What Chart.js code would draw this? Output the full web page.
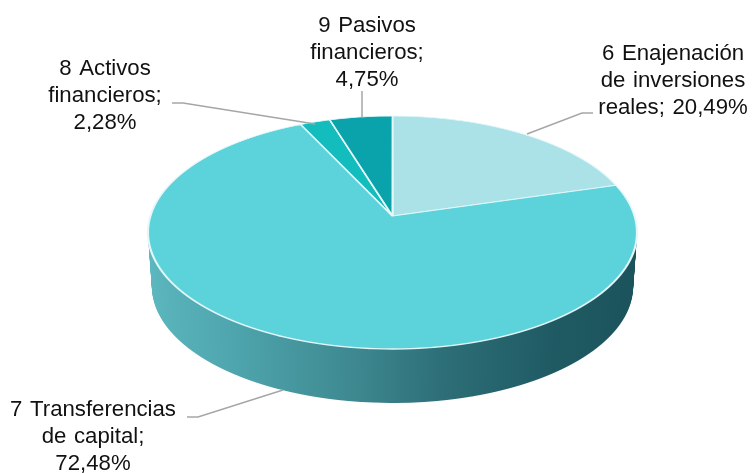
<!DOCTYPE html>
<html>
<head>
<meta charset="utf-8">
<style>html,body{margin:0;padding:0;background:#fff}#wrap{width:754px;height:473px}</style>
<script src="https://cdn.jsdelivr.net/npm/chart.js@4"></script>
</head>
<body>
<div id="wrap"><canvas id="c" width="754" height="473"></canvas></div>
<script>
const categories = ['6 Enajenación de inversiones reales','7 Transferencias de capital','8 Activos financieros','9 Pasivos financieros'];
const values = [20.49, 72.48, 2.28, 4.75];
const valueLabels = ['20,49%','72,48%','2,28%','4,75%'];
const labelLines = [
  ['6 Enajenación','de inversiones','reales; 20,49%'],
  ['7 Transferencias','de capital;','72,48%'],
  ['8 Activos','financieros;','2,28%'],
  ['9 Pasivos','financieros;','4,75%']
];
const sliceColors = ['#ABE2E8','#5CD2DA','#14BDBD','#0BA3AB'];

// Layout and style only
const labelPos = [[673,54],[93,410],[105,69],[367,26]];
const leaders = [
  [[527,134],[582,113],[593,113]],
  [[187,417],[198,417],[283,390]],
  [[172,103],[183,103],[315,124]],
  [[362,91],[362,118]]
];
const view = {cx:392.5, y0:216, top:116, bottom:349, A:242, depth:54};
const k = (view.y0-view.top - (view.bottom-view.y0)) / ((view.y0-view.top)+(view.bottom-view.y0));
const B = (view.y0-view.top)*(1-k);

function drawStrips(ctx, arcs, yFrom, yTo, shift, widthFactor){
  const a0 = arcs[0], R = a0.outerRadius, Xc = a0.x, Yc = a0.y;
  for(let y=yFrom; y<yTo; y++){
    const t = y+0.5-view.y0;
    const v = t/(B-k*t);
    if(Math.abs(v)>1.03) continue;
    const D = 1+k*v;
    const sx = view.A*widthFactor/(R*D);
    const sy = (B/(D*D))/R;
    ctx.save();
    ctx.setTransform(1,0,0,1,0,0);
    ctx.beginPath();
    ctx.rect(0,y+shift,754,1);
    ctx.clip();
    ctx.setTransform(sx,0,0,sy,view.cx-sx*Xc,y+shift+0.5-sy*(Yc+R*v));
    arcs.forEach(a=>a.draw(ctx));
    ctx.restore();
  }
}

const perspectivePie = {
  id:'perspectivePie',
  beforeDatasetsDraw(chart){
    const ctx = chart.ctx;
    const arcs = chart.getDatasetMeta(0).data;
    const a0 = arcs[0], R = a0.outerRadius, Xc = a0.x;
    const g = ctx.createLinearGradient(Xc-R,0,Xc+R,0);
    g.addColorStop(0,'#5DB8BF');
    g.addColorStop(0.2,'#4FA6AE');
    g.addColorStop(0.42,'#3F8A92');
    g.addColorStop(0.6,'#2C6D76');
    g.addColorStop(0.8,'#1F5A63');
    g.addColorStop(1,'#1B525B');
    const saved = arcs.map(a=>a.options);
    arcs.forEach((a,i)=>{a.options = Object.assign({},saved[i],{backgroundColor:g,borderWidth:0});});
    for(let d=view.depth; d>=1; d--){
      drawStrips(ctx, arcs, view.y0, view.bottom+2, d, 1-0.016*d/view.depth);
    }
    arcs.forEach((a,i)=>{a.options = saved[i];});
    drawStrips(ctx, arcs, view.top-3, view.bottom+3, 0, 1);
    return false;
  },
  afterDraw(chart){
    const ctx = chart.ctx;
    ctx.save();
    ctx.strokeStyle = '#A6A6A6';
    ctx.lineWidth = 1.5;
    leaders.forEach(l=>{
      ctx.beginPath();
      l.forEach((p,i)=> i? ctx.lineTo(p[0],p[1]) : ctx.moveTo(p[0],p[1]));
      ctx.stroke();
    });
    ctx.fillStyle = '#111';
    ctx.font = '22.2px "Liberation Sans", Arial, sans-serif';
    ctx.wordSpacing = '1.5px';
    ctx.textAlign = 'center';
    ctx.textBaseline = 'middle';
    labelLines.forEach((lines,i)=>{
      lines.forEach((s,j)=>ctx.fillText(s,labelPos[i][0],labelPos[i][1]+j*27));
    });
    ctx.restore();
  }
};

new Chart(document.getElementById('c'),{
  type:'pie',
  data:{labels:categories,datasets:[{data:values,backgroundColor:sliceColors,borderColor:'#E4F7F9',borderWidth:2}]},
  options:{
    responsive:false,
    animation:false,
    layout:{padding:0},
    plugins:{legend:{display:false},tooltip:{enabled:false},title:{display:false}}
  },
  plugins:[perspectivePie]
});
</script>
</body>
</html>
